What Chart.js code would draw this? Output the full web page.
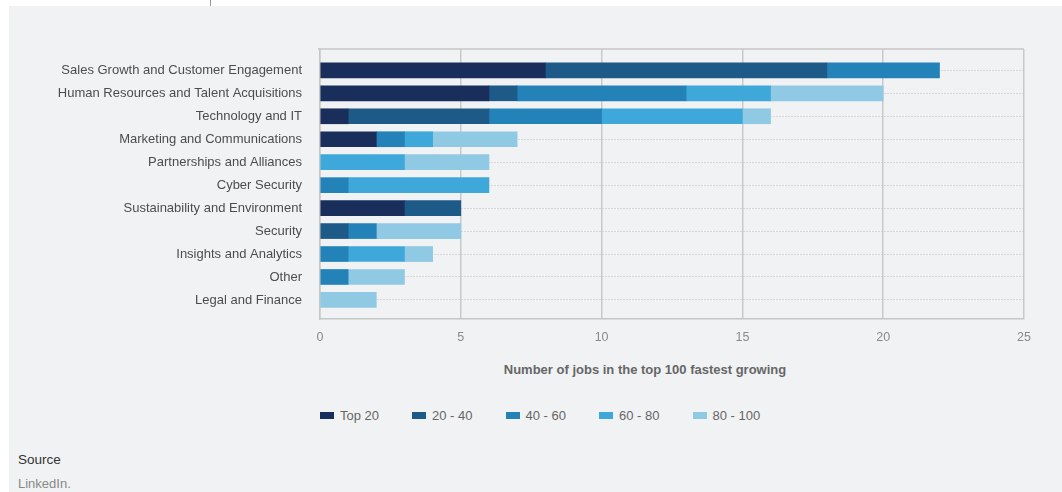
<!DOCTYPE html>
<html>
<head>
<meta charset="utf-8">
<script src="https://cdn.jsdelivr.net/npm/chart.js@4"></script>
<style>
  body { margin: 0; background: #fff; font-family: "Liberation Sans", Arial, sans-serif; }
  #page { position: relative; width: 1062px; height: 492px; overflow: hidden; }
  #panel { position: absolute; left: 9px; top: 6px; width: 1053px; height: 486px; background: #f1f2f4; }
  #tick { position: absolute; left: 210px; top: 0; width: 1px; height: 6px; background: #999; }
  #chartBox { position: absolute; left: 0; top: 0; width: 1062px; height: 350px; }
  #xtitle { position: absolute; left: 0; width: 1290px; top: 362px; text-align: center; font-weight: bold; font-size: 13px; color: #666; }
  #legend { position: absolute; left: 320px; top: 408px; display: flex; font-size: 13px; color: #666; }
  #legend .item { display: flex; align-items: center; margin-right: 33px; }
  #legend .box { width: 14px; height: 7px; margin-right: 6px; }
  #source { position: absolute; left: 18px; top: 452px; font-size: 13.5px; color: #333; }
  #linkedin { position: absolute; left: 18px; top: 476px; font-size: 13px; color: #888; }
</style>
</head>
<body>
<div id="page">
  <div id="panel"></div>
  <div id="tick"></div>
  <div id="chartBox"><canvas id="chart" width="1062" height="350"></canvas></div>
  <div id="xtitle">Number of jobs in the top 100 fastest growing</div>
  <div id="legend"></div>
  <div id="source">Source</div>
  <div id="linkedin">LinkedIn.</div>
</div>
<script>
const categories = [
  'Sales Growth and Customer Engagement',
  'Human Resources and Talent Acquisitions',
  'Technology and IT',
  'Marketing and Communications',
  'Partnerships and Alliances',
  'Cyber Security',
  'Sustainability and Environment',
  'Security',
  'Insights and Analytics',
  'Other',
  'Legal and Finance'
];
const seriesNames = ['Top 20', '20 - 40', '40 - 60', '60 - 80', '80 - 100'];
const top20   = [8, 6, 1, 2, 0, 0, 3, 0, 0, 0, 0];
const r20_40  = [10, 1, 5, 0, 0, 0, 2, 1, 0, 0, 0];
const r40_60  = [4, 6, 4, 1, 0, 1, 0, 1, 1, 1, 0];
const r60_80  = [0, 3, 5, 1, 3, 5, 0, 0, 2, 0, 0];
const r80_100 = [0, 4, 1, 3, 3, 0, 0, 3, 1, 2, 2];
const xTicks = [0, 5, 10, 15, 20, 25];

const colors = ['#192e5b', '#1d5a88', '#2382b8', '#3ea8da', '#90c9e3'];
const allSeries = [top20, r20_40, r40_60, r60_80, r80_100];

// points use the category index as y so the frame can sit outside the bands
// (zero segments are skipped so no sliver shows at the axis)
const datasets = allSeries.map((vals, i) => ({
  label: seriesNames[i],
  data: vals.map((v, idx) => ({ x: v === 0 ? null : v, y: idx })),
  backgroundColor: colors[i],
  borderWidth: 0,
  barThickness: 15
}));

// top border of the plot frame
const framePlugin = {
  id: 'frame',
  afterDraw(chart) {
    const { ctx, chartArea } = chart;
    ctx.save();
    ctx.strokeStyle = '#c6c6c6';
    ctx.lineWidth = 1.5;
    ctx.beginPath();
    ctx.moveTo(chartArea.left - 2, chartArea.top);
    ctx.lineTo(chartArea.right, chartArea.top);
    ctx.stroke();
    ctx.restore();
  }
};

new Chart(document.getElementById('chart'), {
  type: 'bar',
  data: { datasets: datasets },
  options: {
    indexAxis: 'y',
    responsive: false,
    animation: false,
    layout: { padding: { top: 49, right: 38, left: 0, bottom: 0 } },
    plugins: {
      legend: { display: false },
      tooltip: { enabled: false }
    },
    scales: {
      x: {
        type: 'linear',
        stacked: true,
        min: 0,
        max: 25,
        afterBuildTicks: s => { s.ticks = xTicks.map(v => ({ value: v })); },
        afterFit: s => { s.height = 31; },
        ticks: { color: '#8a8a8a', font: { family: 'Liberation Sans', size: 12.5 }, padding: 11 },
        grid: { color: '#c9c9c9', lineWidth: 1.5, drawTicks: false },
        border: { display: true, color: '#c6c6c6', width: 1.5 }
      },
      y: {
        type: 'linear',
        stacked: true,
        reverse: true,
        offset: false,
        bounds: 'data',
        min: -0.93,
        max: 10.83,
        afterBuildTicks: s => { s.ticks = categories.map((_, i) => ({ value: i })); },
        afterFit: s => { s.width = 320; },
        ticks: {
          callback: v => categories[v],
          color: '#4d4d4d',
          font: { family: 'Liberation Sans', size: 13 },
          padding: 18
        },
        grid: { offset: false, color: '#bdbdbd', lineWidth: 1, drawTicks: false },
        border: { display: true, color: '#c6c6c6', width: 1.5, dash: [1, 2] }
      }
    }
  },
  plugins: [framePlugin]
});

// legend
const legend = document.getElementById('legend');
seriesNames.forEach((name, i) => {
  const item = document.createElement('div');
  item.className = 'item';
  item.innerHTML = '<span class="box" style="background:' + colors[i] + '"></span>' + name;
  legend.appendChild(item);
});
</script>
</body>
</html>
